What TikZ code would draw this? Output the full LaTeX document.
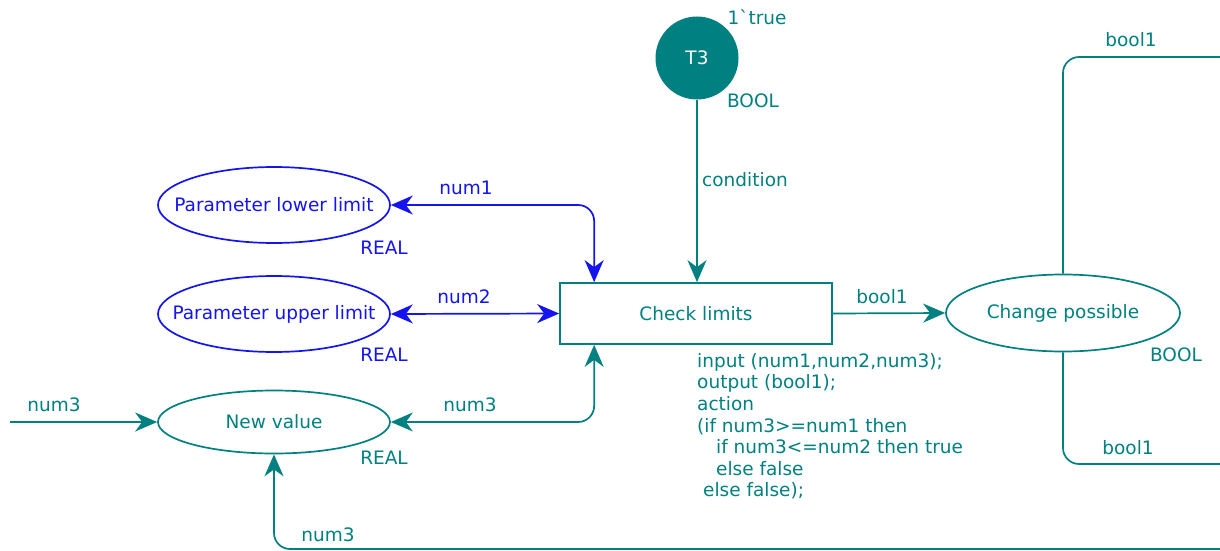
\documentclass[tikz,border=0pt]{standalone}
\usepackage{fontspec}
\setmainfont{DejaVu Sans}
\newfontfamily\rawfont{DejaVu Sans}[Ligatures=TeXOff]
\usetikzlibrary{shapes.geometric,arrows.meta}
\definecolor{tealc}{RGB}{0,128,128}
\definecolor{bluec}{RGB}{20,20,240}
\newcommand{\zw}[1]{\makebox[0pt]{#1}}
\begin{document}
\begin{tikzpicture}[x=1pt,y=-1pt,
  every node/.style={font=\fontsize{18.5}{21.6}\selectfont},
  lbl/.style={inner sep=0pt},
  place/.style={ellipse,draw,line width=1.7pt,minimum width=232pt,minimum height=76pt,inner sep=0pt},
  trans/.style={rectangle,draw,line width=1.7pt,minimum width=272pt,minimum height=61pt,inner sep=0pt},
  arc/.style={line width=1.7pt,rounded corners=16pt},
  hd/.tip={Stealth[length=22pt,width=19pt,inset=7pt]},
  tip/.style={-hd},
  biptip/.style={hd-hd}
]
\useasboundingbox (0,0) rectangle (1220,551);
% places
\node[place,draw=bluec,text=bluec] (pll) at (274,205) {\zw{Parameter lower limit}};
\node[place,draw=bluec,text=bluec] (pul) at (274,314) {\zw{Parameter upper limit}};
\node[place,draw=tealc,text=tealc,minimum height=63pt] (nv) at (274,422) {\zw{New value}};
\node[place,draw=tealc,text=tealc,minimum width=234pt,minimum height=77pt] (cp) at (1063,313) {\zw{Change possible}};
\node[circle,fill=tealc,text=white,minimum size=83pt,inner sep=0pt] (t3) at (697,58) {T3};
% transition
\node[trans,draw=tealc,text=tealc] (cl) at (696,313.5) {\zw{Check limits}};
% free ends
\coordinate (in3) at (10,422);
\coordinate (bot) at (1220,549);
\coordinate (out1) at (1220,57);
\coordinate (out2) at (1220,464);
% arcs
\draw[arc,bluec,biptip] (pll.east) -| ([xshift=35pt]cl.north west);
\draw[arc,bluec,biptip] (pul.east) -- (cl.west);
\draw[arc,tealc,biptip] (nv.east) -| ([xshift=35pt]cl.south west);
\draw[arc,tealc,tip] (in3) -- (nv.west);
\draw[arc,tealc,tip] (bot) -| (nv.south);
\draw[arc,tealc,tip] (t3.south) -- (t3.south |- cl.north);
\draw[arc,tealc,tip] (cl.east) -- (cp.west);
\draw[arc,tealc] (cp.north) |- (out1);
\draw[arc,tealc] (cp.south) |- (out2);
% labels
\begin{scope}[every node/.append style={lbl,text=tealc}]
\node (l1) at (757,17) {\rawfont 1`true};
\node (l2) at (753,101) {BOOL};
\node (l3) at (745,180) {condition};
\node (l4) at (470,405) {num3};
\node (l5) at (384,458) {REAL};
\node (l6) at (54,405) {num3};
\node (l7) at (328,535) {num3};
\node (l8) at (882,297) {bool1};
\node (l9) at (1176,355) {BOOL};
\node (l10) at (1131,40) {bool1};
\node (l11) at (1128,448) {bool1};
\node[anchor=north west,align=left] (code) at (697,353) {input (num1,num2,num3);\\output (bool1);\\action\\(if num3>=num1 then\\\hspace{19pt}if num3<=num2 then true\\\hspace{19pt}else false\\\hspace{6pt}else false);};
\end{scope}
\begin{scope}[every node/.append style={lbl,text=bluec}]
\node (b1) at (466,188) {num1};
\node (b2) at (384,248) {REAL};
\node (b3) at (464,297) {num2};
\node (b4) at (384,355) {REAL};
\end{scope}
\end{tikzpicture}
\end{document}
